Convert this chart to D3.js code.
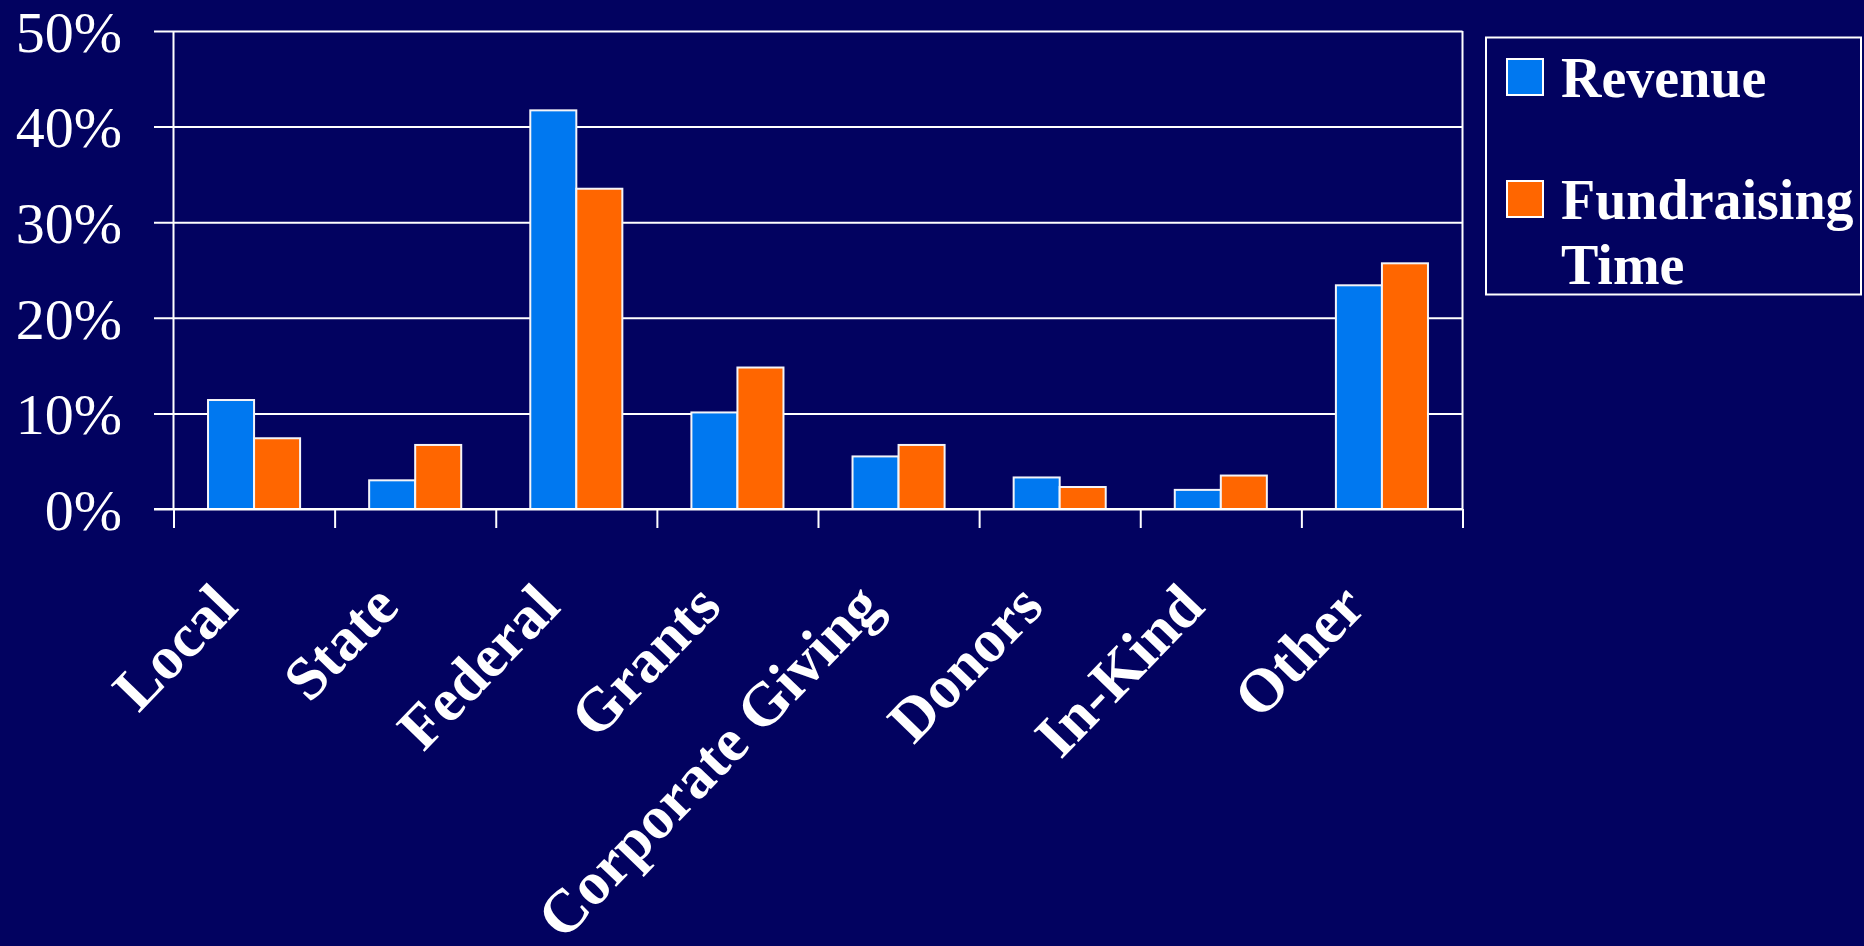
<!DOCTYPE html>
<html>
<head>
<meta charset="utf-8">
<script src="https://cdn.jsdelivr.net/npm/d3@7"></script>
<style>
  html, body { margin: 0; padding: 0; background: #020260; }
  svg { display: block; }
</style>
</head>
<body>
<div id="chart"></div>
<script>
// chart data (percent)
var categories = ["Local", "State", "Federal", "Grants", "Corporate Giving", "Donors", "In-Kind", "Other"];
var seriesNames = ["Revenue", "Fundraising Time"];
var revenue = [11.4, 3.0, 41.7, 10.1, 5.5, 3.3, 2.0, 23.4];
var fundraising = [7.4, 6.7, 33.5, 14.8, 6.7, 2.3, 3.5, 25.7];
var yTicks = [0, 10, 20, 30, 40, 50];
var colors = ["#0078f0", "#ff6600"];

var W = 1864, H = 946;
var plotLeft = 173.5, plotRight = 1462.5, plotTop = 31, plotBottom = 509;
var serif = "'Times New Roman', 'Liberation Serif', serif";

var svg = d3.select("#chart").append("svg")
    .attr("width", W)
    .attr("height", H);

svg.append("rect").attr("width", W).attr("height", H).attr("fill", "#020260");

// scales
var x0 = d3.scaleBand().domain(categories).range([plotLeft, plotRight]);
var x1 = d3.scaleBand().domain(seriesNames).range([0, x0.bandwidth()]).paddingOuter(0.75);
var y = d3.scaleLinear().domain([0, 50]).range([plotBottom, plotTop]);
var xEdge = d3.scaleLinear().domain([0, categories.length]).range([plotLeft, plotRight]);

// y axis with gridlines
var yAxis = svg.append("g")
    .attr("transform", "translate(154,0)")
    .call(d3.axisLeft(y)
        .tickValues(yTicks)
        .tickSize(-(plotRight - 154))
        .tickPadding(32)
        .tickFormat(function (d) { return d + "%"; }));
yAxis.select(".domain").remove();
yAxis.selectAll(".tick line").attr("stroke", "#fff").attr("stroke-width", 2);
yAxis.selectAll(".tick text")
    .attr("fill", "#fff")
    .attr("font-family", serif)
    .attr("font-size", 58)
    .attr("dy", "0.35em");

// plot frame sides
svg.append("line").attr("x1", plotLeft).attr("x2", plotLeft).attr("y1", plotTop).attr("y2", plotBottom)
    .attr("stroke", "#fff").attr("stroke-width", 2);
svg.append("line").attr("x1", plotRight).attr("x2", plotRight).attr("y1", plotTop).attr("y2", plotBottom)
    .attr("stroke", "#fff").attr("stroke-width", 2);

// category boundary ticks
var xTicks = svg.append("g")
    .attr("transform", "translate(0," + plotBottom + ")")
    .call(d3.axisBottom(xEdge).ticks(categories.length).tickSize(19).tickFormat(""));
xTicks.select(".domain").remove();
xTicks.selectAll(".tick line").attr("stroke", "#fff").attr("stroke-width", 2);

// bars
var rows = categories.map(function (c, i) {
    return { cat: c, vals: [revenue[i], fundraising[i]] };
});
var groups = svg.append("g").selectAll("g")
    .data(rows)
    .enter().append("g")
    .attr("transform", function (d) { return "translate(" + x0(d.cat) + ",0)"; });
groups.selectAll("rect")
    .data(function (d) { return d.vals.map(function (v, j) { return { key: seriesNames[j], v: v, j: j }; }); })
    .enter().append("rect")
    .attr("x", function (d) { return x1(d.key); })
    .attr("width", x1.bandwidth())
    .attr("y", function (d) { return y(d.v); })
    .attr("height", function (d) { return y(0) - y(d.v); })
    .attr("fill", function (d) { return colors[d.j]; })
    .attr("stroke", "#f4f4f8")
    .attr("stroke-width", 2);

// category labels
var xLab = svg.append("g")
    .attr("transform", "translate(0," + plotBottom + ")")
    .call(d3.axisBottom(x0).tickSize(0).tickPadding(0));
xLab.select(".domain").remove();
xLab.selectAll(".tick text")
    .attr("fill", "#fff")
    .attr("font-family", serif)
    .attr("font-weight", "bold")
    .attr("font-size", 61)
    .attr("text-anchor", "end")
    .attr("dy", 0)
    .attr("transform", "translate(-14,100) rotate(-46)");

// x axis line over bar bottoms
svg.append("line").attr("x1", 154).attr("x2", plotRight).attr("y1", plotBottom).attr("y2", plotBottom)
    .attr("stroke", "#fff").attr("stroke-width", 2);

// legend
var legend = svg.append("g");
legend.append("rect")
    .attr("x", 1486).attr("y", 37.5).attr("width", 375).attr("height", 257)
    .attr("fill", "none").attr("stroke", "#fff").attr("stroke-width", 2);
var legendY = [59, 181];
var legendLines = [["Revenue"], ["Fundraising", "Time"]];
seriesNames.forEach(function (s, i) {
    legend.append("rect")
        .attr("x", 1507).attr("y", legendY[i]).attr("width", 36).attr("height", 36)
        .attr("fill", colors[i]).attr("stroke", "#fff").attr("stroke-width", 2);
    legendLines[i].forEach(function (t, k) {
        legend.append("text")
            .attr("x", 1561)
            .attr("y", legendY[i] + 38 + k * 65)
            .attr("fill", "#fff")
            .attr("font-family", serif)
            .attr("font-weight", "bold")
            .attr("font-size", 56)
            .text(t);
    });
});
</script>
</body>
</html>
